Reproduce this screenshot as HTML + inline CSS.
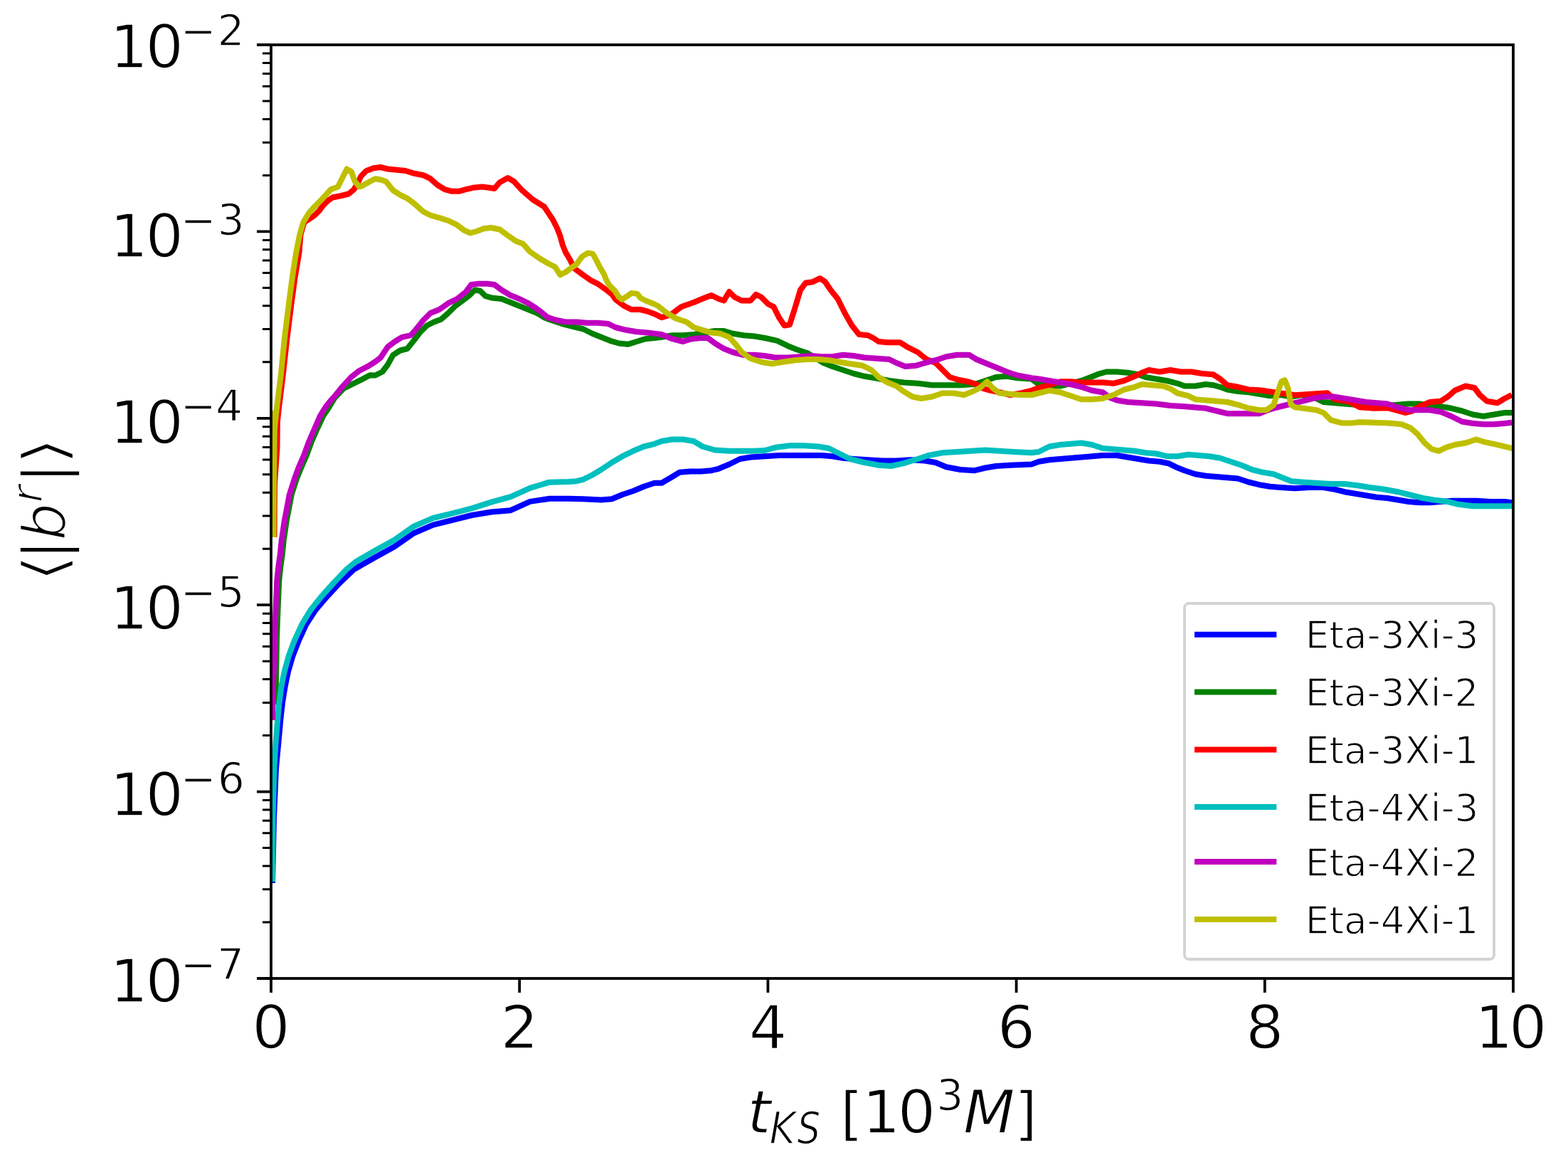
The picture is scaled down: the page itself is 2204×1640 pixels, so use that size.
<!DOCTYPE html><html><head><meta charset="utf-8"><title>plot</title><style>
html,body{margin:0;padding:0;background:#fff;}
body{width:2204px;height:1640px;overflow:hidden;}
svg{display:block;}
text{font-family:"DejaVu Sans","Liberation Sans",sans-serif;fill:#000;}
.it{font-style:oblique;}
</style></head><body>
<svg width="2204" height="1640" viewBox="0 0 2204 1640">
<rect x="0" y="0" width="2204" height="1640" fill="#fff"/>
<defs><clipPath id="ax"><rect x="381.0" y="63.0" width="1746.0" height="1312.0"/></clipPath></defs>
<g clip-path="url(#ax)" fill="none" stroke-width="8" stroke-linejoin="round" stroke-linecap="butt">
<path d="M383.0,1241.0 L385.0,1150.0 L388.0,1080.0 L391.5,1042.6 L394.5,1009.7 L397.0,987.7 L400.5,965.8 L405.0,943.9 L411.5,921.9 L420.0,900.0 L430.3,877.6 L443.0,858.0 L459.6,838.5 L477.6,819.0 L497.0,800.5 L527.2,783.2 L554.4,768.2 L581.7,749.2 L608.9,737.6 L636.1,730.8 L663.3,724.0 L690.6,719.5 L717.8,717.2 L745.0,704.9 L772.2,700.8 L799.4,700.8 L820.0,701.2 L845.0,702.5 L860.0,701.2 L875.0,695.0 L890.0,690.0 L905.0,683.8 L920.0,678.8 L930.0,678.8 L945.0,670.0 L955.0,663.8 L970.0,662.5 L985.0,662.5 L1000.0,661.2 L1010.0,658.8 L1025.0,652.5 L1040.0,645.0 L1055.0,642.5 L1075.0,641.2 L1095.0,640.0 L1115.0,640.0 L1135.0,640.0 L1155.0,640.0 L1170.0,641.2 L1185.0,643.8 L1200.0,645.0 L1220.0,646.2 L1240.0,647.5 L1260.0,647.5 L1280.0,646.2 L1300.0,647.5 L1315.0,650.0 L1330.0,656.2 L1350.0,660.0 L1370.0,661.2 L1385.0,657.5 L1400.0,655.0 L1420.0,653.8 L1450.0,652.5 L1460.0,648.8 L1475.0,646.2 L1490.0,645.0 L1505.0,643.8 L1520.0,642.5 L1535.0,641.2 L1550.0,640.0 L1570.0,640.0 L1585.0,642.5 L1600.0,645.0 L1615.0,647.5 L1630.0,648.8 L1642.5,651.2 L1652.5,656.2 L1665.0,661.2 L1680.0,666.2 L1695.0,668.8 L1710.0,670.0 L1725.0,671.2 L1740.0,672.5 L1755.0,677.5 L1770.0,681.2 L1785.0,683.8 L1800.0,685.0 L1820.0,686.2 L1840.0,685.0 L1860.0,685.0 L1875.0,687.5 L1890.0,691.2 L1905.0,693.8 L1920.0,696.2 L1935.0,698.8 L1950.0,700.0 L1965.0,702.5 L1980.0,705.0 L1995.0,706.2 L2010.0,706.2 L2025.0,705.0 L2040.0,703.8 L2055.0,703.8 L2075.0,703.8 L2095.0,705.0 L2115.0,705.0 L2125.0,706.2" stroke="#0000ff"/>
<path d="M387.7,990.0 L388.0,955.0 L388.5,930.0 L389.0,900.0 L390.0,870.0 L391.0,845.0 L392.3,816.0 L394.5,795.0 L396.8,779.4 L398.7,760.0 L401.2,742.8 L403.0,730.7 L405.1,720.0 L409.8,695.1 L416.8,673.2 L423.2,657.6 L431.1,639.3 L437.8,621.0 L445.8,602.7 L454.5,584.4 L463.0,571.5 L470.6,559.0 L483.0,546.0 L496.0,539.5 L507.8,533.7 L520.0,527.3 L527.5,527.5 L537.5,522.5 L545.0,512.5 L552.5,498.8 L562.5,492.5 L572.5,490.0 L582.5,477.5 L590.0,467.5 L600.0,457.5 L610.0,452.5 L620.0,448.8 L630.0,440.0 L640.0,430.0 L650.0,422.5 L660.0,415.0 L667.5,407.5 L675.0,408.8 L682.5,416.2 L692.5,418.8 L705.0,420.0 L717.5,425.0 L730.0,430.0 L742.5,435.0 L755.0,440.0 L765.0,446.2 L775.0,450.0 L790.0,455.0 L805.0,458.8 L820.0,462.5 L832.5,468.8 L845.0,473.8 L857.5,478.8 L870.0,482.5 L882.5,483.8 L895.0,480.0 L907.5,476.2 L920.0,475.0 L930.0,473.8 L945.0,471.2 L960.0,471.2 L975.0,470.0 L990.0,467.5 L1005.0,465.0 L1017.5,465.0 L1030.0,468.8 L1045.0,471.2 L1060.0,472.5 L1075.0,475.0 L1092.5,478.8 L1107.5,486.2 L1120.0,491.2 L1135.0,496.2 L1147.5,503.8 L1157.5,510.0 L1170.0,515.0 L1185.0,520.0 L1200.0,525.0 L1215.0,528.8 L1230.0,531.2 L1250.0,535.0 L1270.0,537.5 L1290.0,538.8 L1310.0,541.2 L1330.0,541.2 L1350.0,541.2 L1370.0,540.0 L1385.0,535.0 L1400.0,530.0 L1415.0,528.8 L1430.0,531.2 L1450.0,532.5 L1460.0,540.0 L1475.0,542.5 L1490.0,542.5 L1505.0,538.8 L1520.0,535.0 L1530.0,531.2 L1542.5,526.2 L1555.0,522.5 L1570.0,522.5 L1585.0,523.8 L1600.0,526.2 L1610.0,530.0 L1625.0,532.5 L1640.0,535.0 L1655.0,538.8 L1665.0,542.5 L1680.0,542.5 L1695.0,540.0 L1705.0,541.2 L1715.0,543.8 L1725.0,547.5 L1740.0,550.0 L1755.0,551.2 L1770.0,553.8 L1785.0,556.2 L1800.0,555.0 L1815.0,557.5 L1830.0,555.0 L1845.0,557.5 L1860.0,565.0 L1875.0,566.2 L1890.0,567.5 L1905.0,568.8 L1920.0,570.0 L1935.0,570.0 L1950.0,570.0 L1965.0,568.8 L1980.0,567.5 L1995.0,567.5 L2010.0,570.0 L2025.0,571.2 L2040.0,573.8 L2055.0,577.5 L2070.0,582.5 L2085.0,585.0 L2100.0,582.5 L2115.0,580.0 L2125.0,580.0" stroke="#008000"/>
<path d="M385.5,755.0 L386.0,680.0 L389.5,630.0 L390.0,580.0 L388.0,610.0 L391.8,575.0 L398.0,525.0 L403.5,475.0 L409.8,425.0 L415.0,387.5 L420.5,355.0 L422.5,330.0 L427.5,312.5 L435.3,307.5 L442.3,302.5 L448.4,296.5 L454.4,288.4 L460.4,282.4 L467.5,277.5 L480.0,275.0 L490.0,272.5 L497.5,266.2 L502.5,257.5 L507.5,247.5 L515.0,240.0 L525.0,236.2 L535.0,235.0 L545.0,237.5 L557.5,238.8 L570.0,240.0 L582.5,243.8 L595.0,246.2 L605.0,251.2 L615.0,260.0 L625.0,266.2 L635.0,268.8 L645.0,268.8 L655.0,266.2 L665.0,263.8 L677.5,262.5 L687.5,263.8 L695.0,265.0 L702.5,256.2 L713.8,250.0 L722.5,255.0 L732.8,266.4 L740.8,273.4 L748.9,280.5 L756.9,285.5 L765.0,290.5 L771.0,299.6 L777.1,308.7 L783.1,320.7 L787.1,330.8 L791.1,344.9 L795.2,354.9 L801.2,365.0 L807.2,377.1 L820.1,386.8 L830.2,393.8 L840.2,398.8 L850.3,405.9 L860.4,413.9 L865.4,421.0 L877.5,430.0 L887.5,435.0 L900.0,435.0 L910.0,437.5 L920.0,441.2 L930.0,446.2 L942.5,442.5 L957.5,431.2 L975.0,425.0 L990.0,418.8 L1000.0,415.0 L1010.0,420.0 L1017.5,422.5 L1025.0,410.0 L1032.5,417.5 L1042.5,422.5 L1055.0,422.5 L1062.5,413.8 L1070.0,417.5 L1080.0,427.5 L1087.5,431.2 L1095.0,446.2 L1102.5,457.5 L1110.0,456.2 L1117.5,432.5 L1125.0,407.5 L1132.5,397.5 L1142.5,396.2 L1152.5,391.2 L1160.0,396.2 L1167.5,407.5 L1177.5,420.0 L1187.5,440.0 L1197.5,457.5 L1207.5,470.0 L1220.0,471.2 L1227.5,475.0 L1235.0,480.0 L1247.5,481.2 L1265.0,481.2 L1275.0,487.5 L1290.0,495.0 L1302.5,505.0 L1315.0,510.0 L1325.0,520.0 L1335.0,530.0 L1347.5,533.8 L1360.0,536.2 L1372.5,540.0 L1382.5,546.2 L1392.5,548.8 L1405.0,551.2 L1420.0,555.0 L1435.0,552.5 L1450.0,548.8 L1460.0,545.0 L1475.0,541.2 L1490.0,536.2 L1505.0,536.2 L1520.0,537.5 L1535.0,537.5 L1550.0,537.5 L1565.0,538.8 L1580.0,535.0 L1595.0,528.8 L1605.0,523.8 L1615.0,520.0 L1630.0,522.5 L1645.0,520.0 L1660.0,522.5 L1675.0,522.5 L1690.0,525.0 L1705.0,526.2 L1715.0,532.5 L1725.0,541.2 L1740.0,543.8 L1755.0,547.5 L1770.1,548.2 L1794.3,551.7 L1820.4,555.2 L1850.6,553.2 L1865.7,552.2 L1875.8,561.2 L1895.9,564.3 L1911.0,572.3 L1931.1,573.8 L1951.2,573.3 L1975.0,580.0 L1985.0,577.5 L1995.0,571.2 L2010.0,565.0 L2025.0,563.8 L2035.0,557.5 L2045.0,548.8 L2060.0,542.5 L2072.5,545.0 L2080.0,555.0 L2090.0,563.8 L2105.0,566.2 L2115.0,560.0 L2125.0,555.0" stroke="#ff0000"/>
<path d="M383.0,1239.0 L383.6,1150.0 L385.4,1080.0 L387.6,1042.6 L390.4,1009.7 L392.5,987.7 L395.3,965.8 L399.7,943.9 L405.7,921.9 L413.9,900.0 L424.3,877.6 L436.0,858.0 L451.6,838.5 L469.1,819.0 L487.7,799.5 L500.0,789.5 L527.2,773.7 L554.4,758.7 L581.7,739.6 L608.9,728.0 L636.1,721.3 L663.3,714.4 L690.6,705.6 L717.8,698.1 L745.0,685.9 L772.2,677.7 L799.4,677.0 L810.0,676.2 L820.0,673.8 L832.5,667.5 L845.0,660.0 L860.0,650.0 L875.0,641.2 L890.0,633.8 L905.0,627.5 L920.0,623.8 L930.0,620.0 L945.0,617.5 L960.0,617.5 L975.0,620.0 L987.5,627.5 L1005.0,632.5 L1025.0,633.8 L1045.0,633.8 L1060.0,633.8 L1075.0,633.0 L1090.0,628.8 L1110.0,626.2 L1130.0,626.2 L1150.0,627.5 L1165.0,630.0 L1180.0,637.5 L1195.0,645.0 L1215.0,650.0 L1235.0,653.8 L1252.5,655.0 L1270.0,651.2 L1290.0,645.0 L1305.0,640.0 L1325.0,636.2 L1345.0,635.0 L1365.0,633.8 L1385.0,632.5 L1405.0,633.8 L1425.0,635.0 L1450.0,636.2 L1460.0,635.0 L1475.0,627.5 L1490.0,625.0 L1505.0,623.8 L1520.0,622.5 L1535.0,625.0 L1550.0,630.0 L1565.0,631.2 L1580.0,632.5 L1595.0,633.8 L1610.0,636.2 L1625.0,637.5 L1640.0,641.2 L1655.0,641.2 L1670.0,638.8 L1685.0,640.0 L1700.0,641.2 L1715.0,643.8 L1730.0,648.8 L1745.0,653.8 L1760.0,660.0 L1775.0,663.8 L1790.0,666.2 L1815.0,676.2 L1830.0,677.5 L1850.0,678.8 L1870.0,680.0 L1890.0,680.0 L1910.0,682.5 L1925.0,685.0 L1945.0,687.5 L1965.0,691.2 L1980.0,695.0 L2000.0,700.0 L2015.0,702.5 L2035.0,705.0 L2050.0,708.8 L2070.0,711.2 L2090.0,711.2 L2110.0,711.2 L2125.0,711.2" stroke="#00bfbf"/>
<path d="M383.0,1012.0 L383.5,990.0 L384.2,955.0 L385.5,930.0 L386.0,900.0 L387.0,870.0 L388.0,845.0 L389.3,816.0 L391.5,795.0 L393.8,779.4 L395.7,760.0 L398.2,742.8 L400.0,730.7 L402.1,720.0 L406.8,695.1 L413.8,673.2 L419.5,657.6 L427.4,639.3 L434.1,621.0 L442.1,602.7 L450.0,584.4 L458.0,571.5 L465.6,562.0 L469.0,558.5 L480.9,543.9 L494.3,529.3 L505.0,521.0 L517.5,514.6 L528.7,507.5 L535.0,502.5 L545.0,487.5 L555.0,480.0 L565.0,473.8 L577.5,471.2 L585.0,462.5 L595.0,450.0 L605.0,440.0 L617.5,435.0 L630.0,426.2 L642.5,420.0 L655.0,410.0 L662.5,400.0 L672.5,398.8 L685.0,398.8 L695.0,400.0 L705.0,407.5 L717.5,415.0 L730.0,420.0 L742.5,426.2 L752.5,432.5 L762.5,440.0 L770.0,446.2 L782.5,450.0 L795.0,452.5 L810.0,452.5 L825.0,453.8 L840.0,453.8 L855.0,455.0 L865.0,460.0 L880.0,463.8 L895.0,466.2 L910.0,467.5 L920.0,468.8 L930.0,470.0 L945.0,476.2 L960.0,480.0 L972.5,476.2 L985.0,475.0 L995.0,475.0 L1005.0,482.5 L1017.5,490.0 L1030.0,495.0 L1045.0,498.8 L1060.0,498.8 L1075.0,500.0 L1090.0,502.5 L1107.5,502.5 L1125.0,501.2 L1140.0,500.0 L1155.0,501.2 L1170.0,501.2 L1185.0,498.8 L1200.0,500.0 L1215.0,502.5 L1232.5,503.8 L1250.0,505.0 L1260.0,510.0 L1272.5,515.0 L1287.5,513.8 L1300.0,510.0 L1315.0,506.2 L1330.0,501.2 L1345.0,498.8 L1362.5,498.8 L1372.5,505.0 L1387.5,511.2 L1400.0,516.2 L1415.0,522.5 L1430.0,527.5 L1450.0,531.2 L1460.0,532.5 L1475.0,535.0 L1490.0,537.5 L1505.0,540.0 L1520.0,543.8 L1535.0,548.8 L1550.0,551.2 L1560.0,558.8 L1570.0,562.5 L1585.0,565.0 L1605.0,566.2 L1625.0,567.5 L1645.0,570.0 L1665.0,571.2 L1680.0,572.5 L1695.0,573.8 L1710.0,577.5 L1725.0,581.2 L1740.0,581.2 L1755.0,581.2 L1770.0,581.2 L1782.5,576.2 L1795.0,572.5 L1815.0,567.5 L1830.0,563.8 L1845.0,560.0 L1860.0,557.5 L1875.0,557.5 L1890.0,560.0 L1905.0,562.5 L1920.0,565.0 L1935.0,566.2 L1950.0,567.5 L1965.0,572.5 L1980.0,576.2 L1995.0,576.2 L2010.0,576.2 L2025.0,578.8 L2040.0,585.0 L2055.0,592.5 L2070.0,595.0 L2085.0,596.2 L2100.0,596.2 L2115.0,595.0 L2125.0,593.8" stroke="#bf00bf"/>
<path d="M384.5,755.0 L385.0,680.0 L385.5,630.0 L386.2,580.0 L385.0,610.0 L388.8,575.0 L395.0,525.0 L400.0,475.0 L406.2,425.0 L411.2,387.5 L416.2,355.0 L421.2,330.0 L426.2,312.5 L433.8,300.0 L442.5,290.0 L452.5,280.0 L465.0,266.2 L475.0,262.5 L481.2,250.0 L487.5,237.5 L493.8,241.2 L498.8,255.0 L505.0,262.5 L508.8,261.2 L520.0,255.0 L527.5,251.2 L535.0,252.5 L542.5,255.0 L552.5,267.5 L562.5,273.8 L572.5,278.8 L582.5,286.2 L595.0,297.5 L605.0,302.5 L617.5,306.2 L630.0,310.0 L642.5,316.2 L652.5,323.8 L661.2,327.5 L670.0,325.0 L680.0,321.2 L690.0,320.0 L702.5,322.5 L712.5,330.0 L725.0,338.8 L735.0,342.5 L745.0,353.8 L757.5,362.5 L770.0,370.0 L780.0,375.0 L787.5,386.2 L795.0,382.5 L805.0,375.0 L810.1,371.7 L818.1,360.6 L826.2,355.6 L833.2,356.6 L838.2,365.6 L843.3,375.7 L849.3,385.8 L852.3,393.8 L856.3,400.8 L864.4,408.9 L869.4,416.9 L874.4,421.0 L880.5,416.9 L887.5,411.9 L895.6,412.9 L900.6,419.0 L907.5,422.5 L920.0,427.5 L925.0,430.0 L937.5,440.0 L950.0,447.5 L965.0,452.5 L975.0,460.0 L987.5,463.8 L1000.0,467.5 L1012.5,468.8 L1025.0,473.8 L1035.0,485.0 L1042.5,495.0 L1055.0,503.8 L1070.0,508.8 L1085.0,511.2 L1100.0,508.8 L1117.5,506.2 L1135.0,505.0 L1150.0,505.0 L1165.0,506.2 L1180.0,508.8 L1195.0,511.2 L1212.5,513.8 L1225.0,520.0 L1235.0,530.0 L1247.5,537.5 L1260.0,542.5 L1270.0,550.0 L1282.5,557.5 L1295.0,560.0 L1310.0,557.5 L1325.0,552.5 L1340.0,552.5 L1355.0,555.0 L1367.5,550.0 L1377.5,545.0 L1387.5,536.2 L1395.0,545.0 L1405.0,552.5 L1420.0,553.8 L1435.0,555.0 L1450.0,555.0 L1460.0,552.5 L1475.0,548.8 L1490.0,551.2 L1505.0,556.2 L1520.0,561.2 L1535.0,561.2 L1550.0,560.0 L1565.0,555.0 L1580.0,547.5 L1595.0,543.8 L1605.0,540.0 L1620.0,541.2 L1635.0,542.5 L1645.0,546.2 L1655.0,552.5 L1670.0,556.2 L1680.0,561.2 L1695.0,562.5 L1710.0,563.8 L1725.0,565.0 L1740.0,568.8 L1755.0,573.8 L1770.0,576.2 L1780.2,576.3 L1790.2,569.3 L1795.3,553.2 L1801.3,536.1 L1805.8,534.1 L1810.4,545.2 L1814.4,568.3 L1820.4,572.3 L1850.6,576.3 L1860.7,580.4 L1870.7,590.4 L1885.8,594.4 L1900.9,594.4 L1910.0,593.2 L1922.2,593.4 L1934.4,593.9 L1951.2,594.4 L1970.0,596.2 L1982.5,601.2 L1992.5,610.0 L2002.5,622.5 L2012.5,631.2 L2022.5,633.8 L2032.5,628.8 L2045.0,625.0 L2060.0,622.5 L2075.0,617.5 L2086.8,621.2 L2105.1,625.1 L2124.6,629.8 L2128.3,630.4" stroke="#bfbf00"/>
</g>
<rect x="381.0" y="63.0" width="1746.0" height="1312.0" fill="none" stroke="#000" stroke-width="3.8"/>
<path d="M381.0,1375.0 V1395.0 M730.2,1375.0 V1395.0 M1079.4,1375.0 V1395.0 M1428.6,1375.0 V1395.0 M1777.8,1375.0 V1395.0 M2127.0,1375.0 V1395.0 M381.0,1375.0 H361.0 M381.0,1112.6 H361.0 M381.0,850.2 H361.0 M381.0,587.8 H361.0 M381.0,325.4 H361.0 M381.0,63.0 H361.0" stroke="#000" stroke-width="3.8" fill="none"/>
<path d="M381.0,1296.0 H369.0 M381.0,1249.8 H369.0 M381.0,1217.0 H369.0 M381.0,1191.6 H369.0 M381.0,1170.8 H369.0 M381.0,1153.2 H369.0 M381.0,1138.0 H369.0 M381.0,1124.6 H369.0 M381.0,1033.6 H369.0 M381.0,987.4 H369.0 M381.0,954.6 H369.0 M381.0,929.2 H369.0 M381.0,908.4 H369.0 M381.0,890.8 H369.0 M381.0,875.6 H369.0 M381.0,862.2 H369.0 M381.0,771.2 H369.0 M381.0,725.0 H369.0 M381.0,692.2 H369.0 M381.0,666.8 H369.0 M381.0,646.0 H369.0 M381.0,628.4 H369.0 M381.0,613.2 H369.0 M381.0,599.8 H369.0 M381.0,508.8 H369.0 M381.0,462.6 H369.0 M381.0,429.8 H369.0 M381.0,404.4 H369.0 M381.0,383.6 H369.0 M381.0,366.0 H369.0 M381.0,350.8 H369.0 M381.0,337.4 H369.0 M381.0,246.4 H369.0 M381.0,200.2 H369.0 M381.0,167.4 H369.0 M381.0,142.0 H369.0 M381.0,121.2 H369.0 M381.0,103.6 H369.0 M381.0,88.4 H369.0 M381.0,75.0 H369.0" stroke="#000" stroke-width="3" fill="none"/>
<g stroke="#fff" stroke-width="1.40">
<text x="381.0" y="1472.5" font-size="84.0" text-anchor="middle">0</text>
<text x="730.2" y="1472.5" font-size="84.0" text-anchor="middle">2</text>
<text x="1079.4" y="1472.5" font-size="84.0" text-anchor="middle">4</text>
<text x="1428.6" y="1472.5" font-size="84.0" text-anchor="middle">6</text>
<text x="1777.8" y="1472.5" font-size="84.0" text-anchor="middle">8</text>
<text x="2073.1" y="1472.5" font-size="84.0">1</text>
<text x="2120.9" y="1472.5" font-size="84.0">0</text>
<text x="154.4" y="1407.5" font-size="84.0">1</text>
<text x="204.4" y="1407.5" font-size="84.0">0</text>
<text x="253.4" y="1376.3" font-size="60.0">−</text>
<text x="305.1" y="1376.3" font-size="60.0">7</text>
<text x="154.4" y="1145.7" font-size="84.0">1</text>
<text x="204.4" y="1145.7" font-size="84.0">0</text>
<text x="253.4" y="1114.5" font-size="60.0">−</text>
<text x="305.8" y="1114.5" font-size="60.0">6</text>
<text x="154.4" y="884.3" font-size="84.0">1</text>
<text x="204.4" y="884.3" font-size="84.0">0</text>
<text x="253.4" y="853.1" font-size="60.0">−</text>
<text x="305.4" y="853.1" font-size="60.0">5</text>
<text x="154.4" y="622.5" font-size="84.0">1</text>
<text x="204.4" y="622.5" font-size="84.0">0</text>
<text x="253.4" y="591.3" font-size="60.0">−</text>
<text x="303.1" y="591.3" font-size="60.0">4</text>
<text x="154.4" y="361.2" font-size="84.0">1</text>
<text x="204.4" y="361.2" font-size="84.0">0</text>
<text x="253.4" y="330.0" font-size="60.0">−</text>
<text x="305.4" y="330.0" font-size="60.0">3</text>
<text x="154.4" y="95.4" font-size="84.0">1</text>
<text x="204.4" y="95.4" font-size="84.0">0</text>
<text x="253.4" y="64.2" font-size="60.0">−</text>
<text x="305.6" y="64.2" font-size="60.0">2</text>
<text x="1050.5" y="1591.5" font-size="84.0" class="it">t</text>
<text transform="translate(1081.6,1607.0) scale(1.000,1.120)" font-size="56.0" class="it">K</text>
<text transform="translate(1120.5,1607.0) scale(0.920,1.120)" font-size="56.0" class="it">S</text>
<text x="1181.0" y="1593.0" font-size="82.0">[</text>
<text x="1212.0" y="1591.5" font-size="84.0">1</text>
<text x="1261.7" y="1591.5" font-size="84.0">0</text>
<text x="1316.3" y="1560.0" font-size="60.0">3</text>
<text x="1354.0" y="1591.5" font-size="84.0" class="it">M</text>
<text x="1426.1" y="1593.0" font-size="82.0">]</text>
<text transform="translate(92.0,816.0) rotate(-90) translate(-3.1,0.0) scale(1.250,1)" font-size="84.0" stroke="#fff" stroke-width="2.4">⟨</text>
<text transform="translate(92.0,816.0) rotate(-90) translate(29.3,0.0) scale(1.000,1)" font-size="84.0" stroke="#fff" stroke-width="1.6">|</text>
<text transform="translate(92.0,816.0) rotate(-90) translate(56.0,0.0) scale(1.000,1)" font-size="84.0" class="it" stroke="#fff" stroke-width="2.6">b</text>
<text transform="translate(92.0,816.0) rotate(-90) translate(109.4,-33.0) scale(1.000,1)" font-size="60.0" class="it" stroke="#fff" stroke-width="2.0">r</text>
<text transform="translate(92.0,816.0) rotate(-90) translate(136.8,0.0) scale(1.000,1)" font-size="84.0" stroke="#fff" stroke-width="1.6">|</text>
<text transform="translate(92.0,816.0) rotate(-90) translate(161.8,0.0) scale(1.250,1)" font-size="84.0" stroke="#fff" stroke-width="2.4">⟩</text>
<rect x="1665" y="848" width="435" height="500" rx="6" ry="6" fill="#fff" stroke="#d3d3d3" stroke-width="3.8"/>
<path d="M1679,891.7 H1794.3" stroke="#0000ff" stroke-width="8"/>
<text x="1834.8" y="911.3" font-size="53.0">Eta-3Xi-3</text>
<path d="M1679,972.5 H1794.3" stroke="#008000" stroke-width="8"/>
<text x="1834.8" y="992.1" font-size="53.0">Eta-3Xi-2</text>
<path d="M1679,1053.6 H1794.3" stroke="#ff0000" stroke-width="8"/>
<text x="1834.8" y="1073.2" font-size="53.0">Eta-3Xi-1</text>
<path d="M1679,1134.1 H1794.3" stroke="#00bfbf" stroke-width="8"/>
<text x="1834.8" y="1153.7" font-size="53.0">Eta-4Xi-3</text>
<path d="M1679,1211.0 H1794.3" stroke="#bf00bf" stroke-width="8"/>
<text x="1834.8" y="1230.6" font-size="53.0">Eta-4Xi-2</text>
<path d="M1679,1292.1 H1794.3" stroke="#bfbf00" stroke-width="8"/>
<text x="1834.8" y="1311.7" font-size="53.0">Eta-4Xi-1</text>
</g>
</svg></body></html>
